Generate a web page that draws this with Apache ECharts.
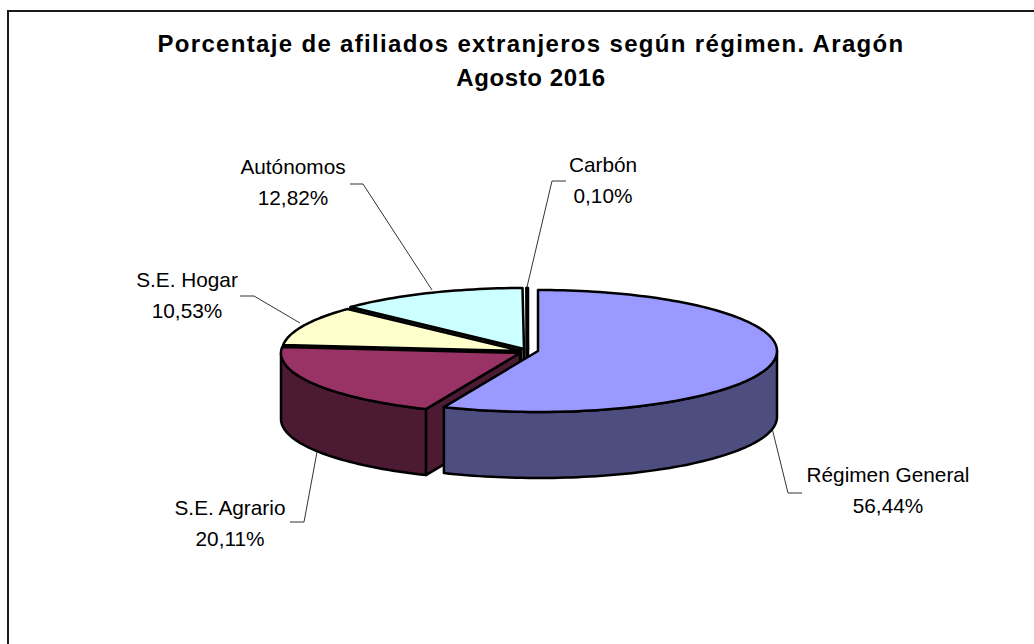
<!DOCTYPE html>
<html><head><meta charset="utf-8">
<style>html,body{margin:0;padding:0;background:#fff}#c{width:1034px;height:644px}</style>
<script src="https://cdn.jsdelivr.net/npm/echarts@6/dist/echarts.min.js"></script>
</head><body><div id="c"></div>
<script>
// Data
const categories = ['Régimen General','S.E. Agrario','S.E. Hogar','Autónomos','Carbón'];
const values = [56.44,20.11,10.53,12.82,0.10];
const valueLabels = ['56,44%','20,11%','10,53%','12,82%','0,10%'];
const titleLines = ['Porcentaje de afiliados extranjeros según régimen. Aragón','Agosto 2016'];
// Style
const topColors = ['#9999FF','#993366','#FFFFCC','#CCFFFF','#660066'];
const sideColors = ['#4D4D80','#4D1A33','#808066','#668080','#330033'];
const paintRank = [4,3,2,1,0];
const explode = [[18,0],[0,2],[1,0],[4,-2],[8,-2]];
const centre = [520,351], rx = 239, ry = 61, depth = 66;
const labelPos = [[888,474],[230,507],[187,279],[293,166],[603,164]];
const lineGap = 31;
const leaders = [
  [[772,428],[788,493],[802,493]],
  [[317,452],[304,522],[290,522]],
  [[300,323],[254,296],[240,296]],
  [[432,290],[363,184],[350,184]],
  [[527,287],[552,181],[566,181]]
];
const total = values.reduce((a,b)=>a+b,0);
const starts = []; values.reduce((a,v,i)=>{starts[i]=a;return a+v;},0);
const rad = d=>d*Math.PI/180;
function pt(c,deg,dy){return [c[0]+rx*Math.sin(rad(deg)), c[1]-ry*Math.cos(rad(deg))+(dy||0)];}
function arc(c,a,b,dy){const n=Math.max(1,Math.ceil(Math.abs(b-a)/1.5)),o=[];for(let i=0;i<=n;i++)o.push(pt(c,a+(b-a)*i/n,dy));return o;}
const edge = {stroke:'#000',lineWidth:2.5,lineJoin:'round'};
function renderSlice(params,api){
  const i = params.dataIndex, v = api.value(0);
  const a0 = starts[i]/total*360, a1 = a0+v/total*360;
  const c = [centre[0]+explode[i][0], centre[1]+explode[i][1]];
  const base = paintRank[i]*10, kids=[];
  const poly=(points,fill,z)=>kids.push({type:'polygon',z2:base+z,shape:{points},style:Object.assign({fill},edge)});
  const bottomC=[c[0],c[1]+depth];
  // cut faces only where they turn towards the viewer
  const wall=a=>{const p=pt(c,a);poly([c,p,[p[0],p[1]+depth],bottomC],sideColors[i],1);};
  if(a0>180 && a0<360) wall(a0);
  if(a1>0 && a1<180) wall(a1);
  const f0=Math.max(a0,90), f1=Math.min(a1,270);
  if(f1>f0) poly(arc(c,f0,f1).concat(arc(c,f0,f1,depth).reverse()),sideColors[i],2);
  poly([c].concat(arc(c,a0,a1)),topColors[i],3);
  return {type:'group',children:kids};
}
function renderLabel(params,api){
  const i = params.dataIndex, kids=[];
  kids.push({type:'polyline',shape:{points:leaders[i]},style:{stroke:'#333',lineWidth:1,fill:null}});
  [categories[i],valueLabels[i]].forEach((t,k)=>kids.push({type:'text',style:{
    text:t,x:labelPos[i][0],y:labelPos[i][1]+k*lineGap,align:'center',verticalAlign:'middle',
    font:'20.8px "Liberation Sans", Arial, sans-serif',fill:'#000'}}));
  return {type:'group',children:kids};
}
const chart = echarts.init(document.getElementById('c'),null,{renderer:'svg'});
chart.setOption({
  animation:false,
  backgroundColor:'#fff',
  title:{text:titleLines.join('\n'),left:526,top:21,textAlign:'center',
    textStyle:{fontFamily:'"Liberation Sans", Arial, sans-serif',fontWeight:'bold',fontSize:24,lineHeight:34,color:'#000'}},
  graphic:[{type:'polyline',shape:{points:[[8,644],[8,11],[1034,11]]},style:{stroke:'#1a1a1a',lineWidth:2,fill:null}}],
  series:[
    {type:'custom',coordinateSystem:'none',renderItem:renderSlice,data:values.map(v=>[v]),silent:true,z:2},
    {type:'custom',coordinateSystem:'none',renderItem:renderLabel,data:values.map(v=>[v]),silent:true,z:1}
  ]
});
// the reference title is tracked wider than the font's natural spacing
document.querySelectorAll('#c svg text').forEach(t=>{
  if(t.textContent===titleLines[0]) t.style.letterSpacing='1.33px';
  if(t.textContent===titleLines[1]) t.style.letterSpacing='0.6px';
});
</script></body></html>
